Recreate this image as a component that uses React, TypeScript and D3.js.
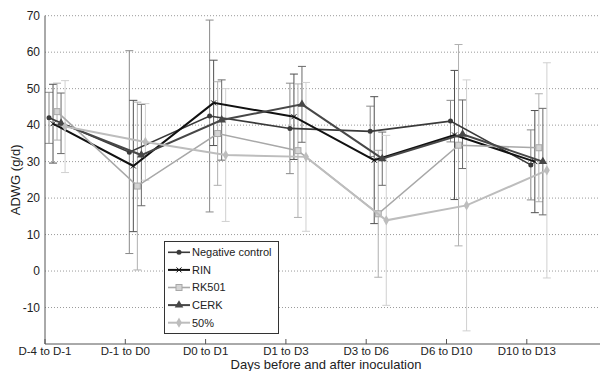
import { useEffect, useRef } from 'react';
import * as d3 from 'd3';

const categories = ['D-4 to D-1', 'D-1 to D0', 'D0 to D1', 'D1 to D3', 'D3 to D6', 'D6 to D10', 'D10 to D13'];
const yTicks = [-10, 0, 10, 20, 30, 40, 50, 60, 70];

const negControl = [42.0, 32.6, 42.5, 39.1, 38.3, 41.1, 29.1];
const negControlSd = [7.0, 27.8, 26.3, 12.4, 6.9, 5.7, 9.6];
const rin = [40.4, 28.8, 46.1, 42.3, 30.4, 37.3, 30.0];
const rinSd = [10.8, 18.0, 11.7, 11.7, 17.4, 17.7, 14.0];
const rk501 = [43.7, 23.3, 37.7, 33.0, 15.7, 34.5, 33.8];
const rk501Sd = [7.8, 23.0, 14.2, 18.3, 17.4, 27.6, 14.8];
const cerk = [40.5, 31.8, 41.4, 45.7, 30.8, 37.5, 30.0];
const cerkSd = [8.3, 13.9, 11.0, 10.4, 7.3, 9.4, 14.6];
const fifty = [39.6, 35.4, 31.8, 31.3, 13.9, 18.0, 27.6];
const fiftySd = [12.6, 10.5, 18.2, 20.4, 23.3, 34.4, 29.5];

type Marker = 'circle' | 'cross' | 'square' | 'triangle' | 'diamond';

interface Series {
  name: string;
  values: number[];
  sd: number[];
  color: string;
  errColor: string;
  width: number;
  marker: Marker;
}

const series: Series[] = [
  { name: 'Negative control', values: negControl, sd: negControlSd, color: '#3a3a3a', errColor: '#8a8a8a', width: 1.6, marker: 'circle' },
  { name: 'RIN', values: rin, sd: rinSd, color: '#111111', errColor: '#505050', width: 2, marker: 'cross' },
  { name: 'RK501', values: rk501, sd: rk501Sd, color: '#a8a8a8', errColor: '#b0b0b0', width: 1.6, marker: 'square' },
  { name: 'CERK', values: cerk, sd: cerkSd, color: '#474747', errColor: '#6a6a6a', width: 2, marker: 'triangle' },
  { name: '50%', values: fifty, sd: fiftySd, color: '#bdbdbd', errColor: '#d0d0d0', width: 2, marker: 'diamond' },
];

const font = 'Liberation Sans, Arial, sans-serif';

function drawMarker(g: d3.Selection<SVGGElement, unknown, null, undefined>, m: Marker, x: number, y: number, color: string) {
  if (m === 'circle') {
    g.append('circle').attr('cx', x).attr('cy', y).attr('r', 2.5).attr('fill', color);
  } else if (m === 'cross') {
    g.append('path')
      .attr('d', `M${x - 2.5},${y - 2.5}L${x + 2.5},${y + 2.5}M${x - 2.5},${y + 2.5}L${x + 2.5},${y - 2.5}`)
      .attr('stroke', color)
      .attr('stroke-width', 1);
  } else if (m === 'square') {
    g.append('rect')
      .attr('x', x - 3).attr('y', y - 3).attr('width', 6).attr('height', 6)
      .attr('fill', '#d4d4d4').attr('stroke', color).attr('stroke-width', 1);
  } else {
    const sym = m === 'triangle' ? d3.symbolTriangle : d3.symbolDiamond;
    g.append('path')
      .attr('d', d3.symbol(sym, m === 'triangle' ? 32 : 30)())
      .attr('transform', `translate(${x},${y})`)
      .attr('fill', color);
  }
}

export default function App() {
  const svgRef = useRef<SVGSVGElement>(null);
  const width = 600;
  const height = 371;

  useEffect(() => {
    if (!svgRef.current) return;
    const svg = d3.select(svgRef.current);
    svg.selectAll('*').remove();

    const left = 45;
    const top = 15.7;
    const bottom = 344;

    const xScale = d3.scaleLinear().domain([0, 7]).range([left, left + 7 * 80.3]);
    const yScale = d3.scaleLinear().domain([-20, 70]).range([bottom, top]);

    const g = svg.append('g');

    // grid
    yTicks.forEach(t => {
      g.append('line')
        .attr('x1', left).attr('x2', width)
        .attr('y1', yScale(t)).attr('y2', yScale(t))
        .attr('stroke', '#9a9a9a')
        .attr('stroke-width', 1)
        .attr('stroke-dasharray', '1,2');
      g.append('text')
        .attr('x', 40)
        .attr('y', yScale(t))
        .attr('dy', '0.35em')
        .attr('text-anchor', 'end')
        .attr('font-family', font)
        .attr('font-size', '12px')
        .attr('fill', '#222')
        .text(t);
    });

    const off = (s: number) => 0.05 * (s + 1);

    // error bars
    series.forEach((s, si) => {
      s.values.forEach((v, i) => {
        const x = xScale(i + off(si));
        const y1 = yScale(v + s.sd[i]);
        const y2 = yScale(v - s.sd[i]);
        g.append('path')
          .attr('d', `M${x},${y1}V${y2}M${x - 4},${y1}H${x + 4}M${x - 4},${y2}H${x + 4}`)
          .attr('stroke', s.errColor)
          .attr('stroke-width', 1)
          .attr('fill', 'none');
      });
    });

    // lines and markers
    series.forEach((s, si) => {
      const line = d3.line<number>()
        .x((_d, i) => xScale(i + off(si)))
        .y(d => yScale(d));
      g.append('path')
        .datum(s.values)
        .attr('d', line)
        .attr('fill', 'none')
        .attr('stroke', s.color)
        .attr('stroke-width', s.width);
      s.values.forEach((v, i) => drawMarker(g, s.marker, xScale(i + off(si)), yScale(v), s.color));
    });

    // axes
    g.append('line')
      .attr('x1', left).attr('x2', left)
      .attr('y1', top).attr('y2', bottom)
      .attr('stroke', '#555');
    g.append('line')
      .attr('x1', left).attr('x2', width)
      .attr('y1', bottom).attr('y2', bottom)
      .attr('stroke', '#555');

    categories.forEach((c, i) => {
      const x = xScale(i);
      g.append('line')
        .attr('x1', x).attr('x2', x)
        .attr('y1', bottom).attr('y2', bottom - 5)
        .attr('stroke', '#555');
      g.append('text')
        .attr('x', x)
        .attr('y', 354.8)
        .attr('text-anchor', 'middle')
        .attr('font-family', font)
        .attr('font-size', '11.5px')
        .attr('fill', '#222')
        .text(c);
    });

    g.append('text')
      .attr('x', 326)
      .attr('y', 369)
      .attr('text-anchor', 'middle')
      .attr('font-family', font)
      .attr('font-size', '13px')
      .attr('fill', '#222')
      .text('Days before and after inoculation');

    g.append('text')
      .attr('transform', `translate(20,${(top + bottom) / 2}) rotate(-90)`)
      .attr('text-anchor', 'middle')
      .attr('font-family', font)
      .attr('font-size', '13px')
      .attr('fill', '#222')
      .text('ADWG (g/d)');

    // legend
    const lg = g.append('g');
    lg.append('rect')
      .attr('x', 164.5).attr('y', 241.5)
      .attr('width', 114).attr('height', 92)
      .attr('fill', '#fff')
      .attr('stroke', '#333')
      .attr('stroke-width', 1);
    series.forEach((s, si) => {
      const y = 252.3 + si * 17.6;
      lg.append('line')
        .attr('x1', 168).attr('x2', 190)
        .attr('y1', y).attr('y2', y)
        .attr('stroke', s.color)
        .attr('stroke-width', s.width);
      drawMarker(lg, s.marker, 179, y, s.color);
      lg.append('text')
        .attr('x', 192)
        .attr('y', y)
        .attr('dy', '0.35em')
        .attr('font-family', font)
        .attr('font-size', '11px')
        .attr('fill', '#222')
        .text(s.name);
    });
  }, []);

  return (
    <svg
      ref={svgRef}
      width={width}
      height={height}
      style={{ position: 'absolute', left: 0, top: 0, background: '#fff' }}
    />
  );
}
